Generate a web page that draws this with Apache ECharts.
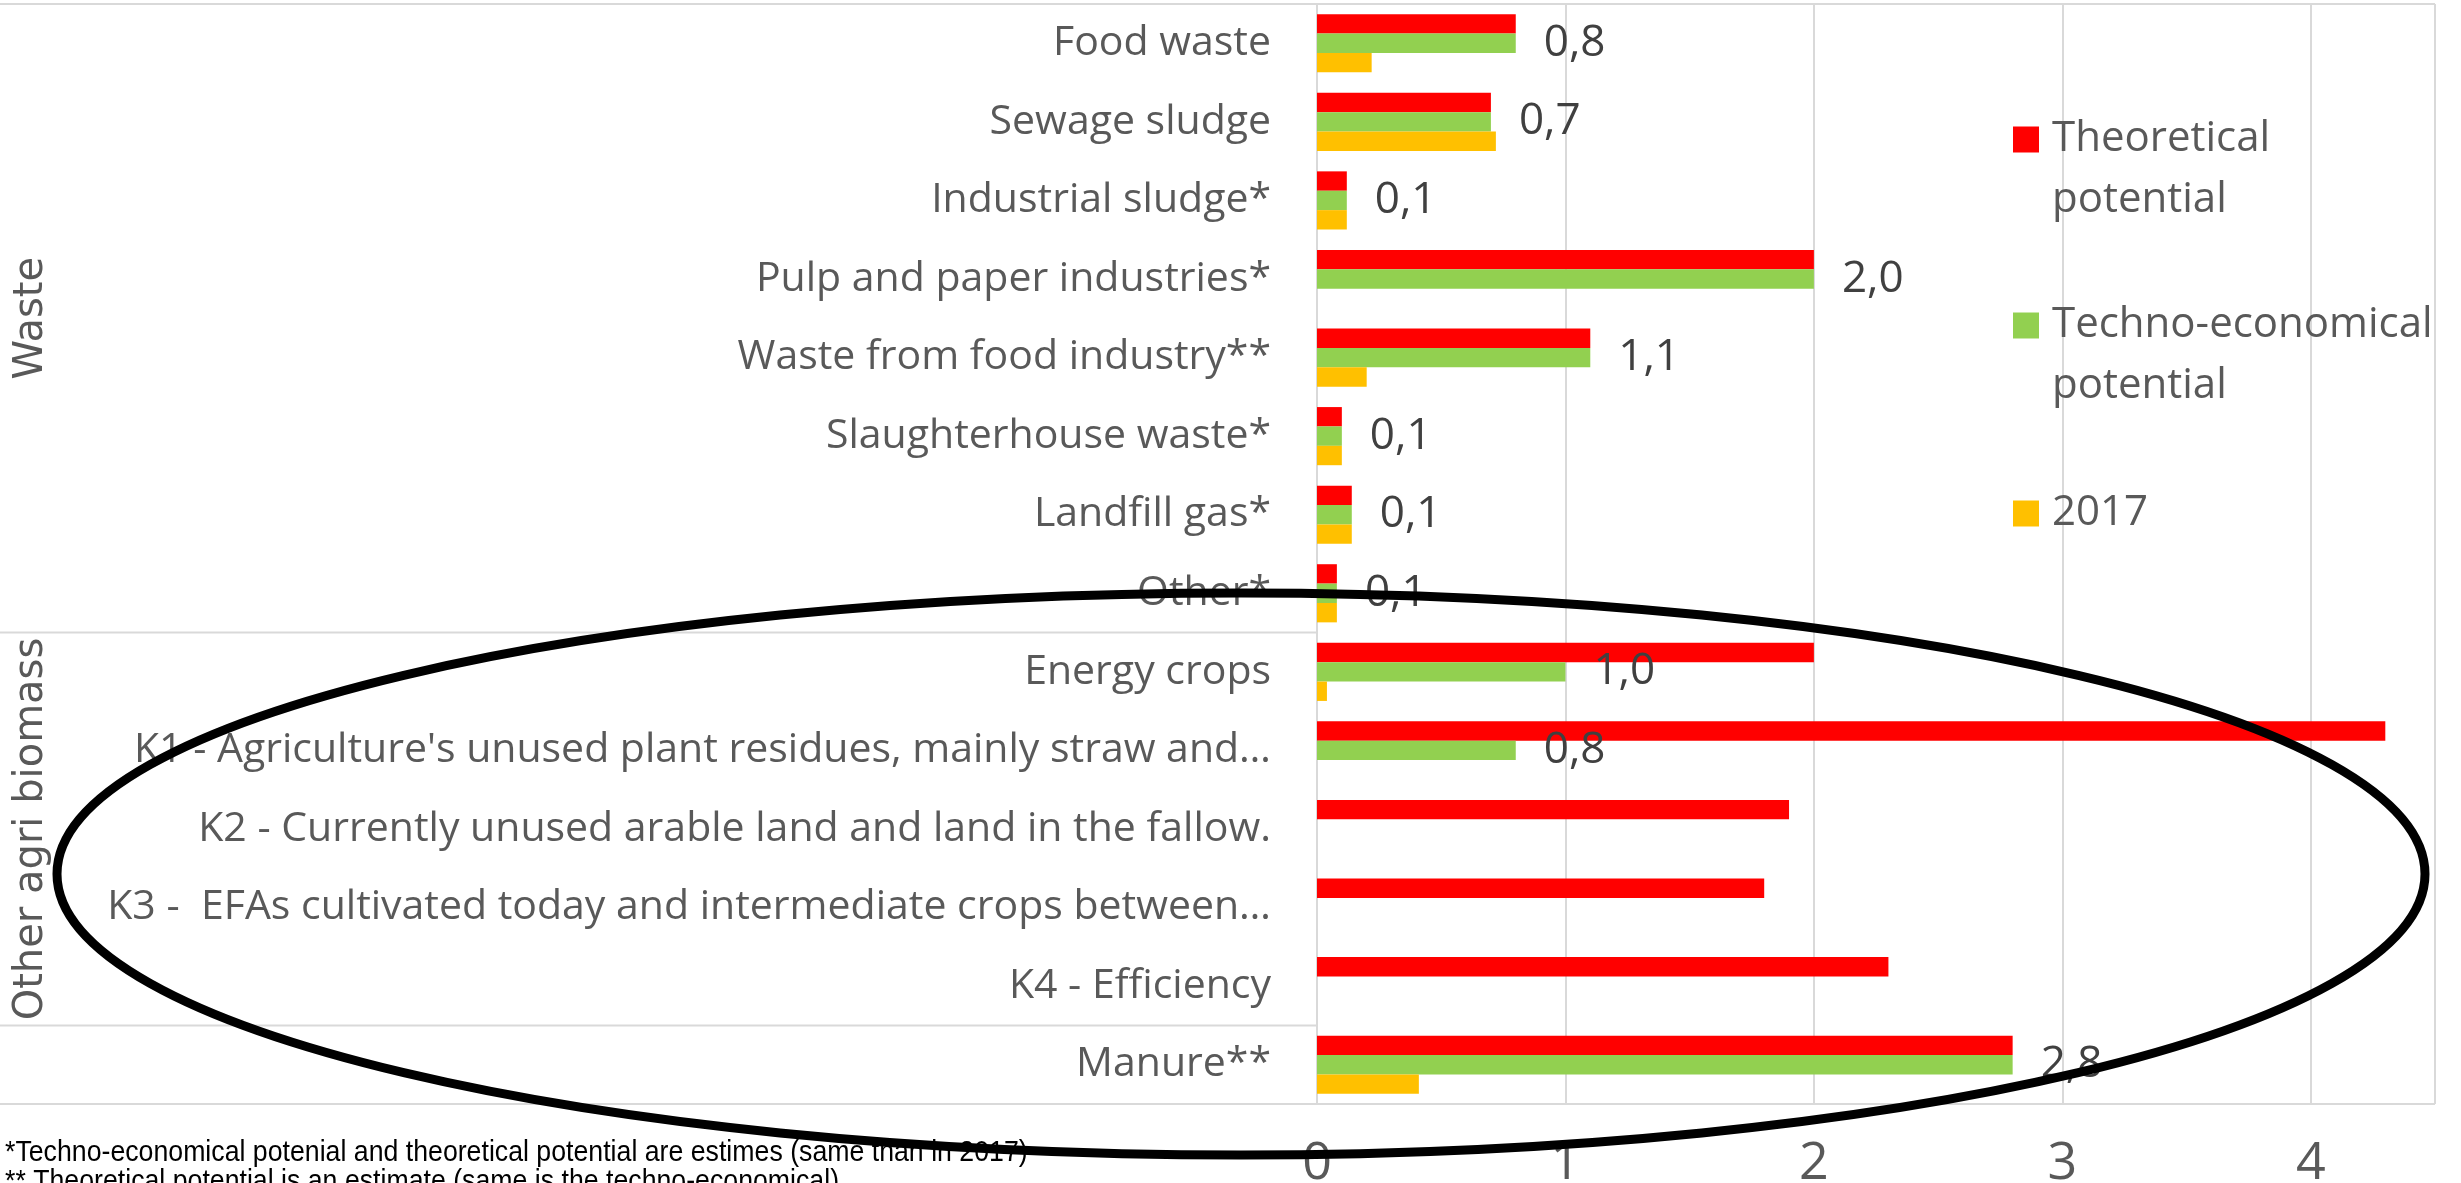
<!DOCTYPE html>
<html>
<head>
<meta charset="utf-8">
<script src="https://cdn.jsdelivr.net/npm/echarts@6/dist/echarts.min.js"></script>
<style>
  html, body { margin: 0; padding: 0; background: #fff; }
  #chart { width: 2461px; height: 1183px; }
</style>
</head>
<body>
<div id="chart"></div>
<script>
  // categories, top to bottom
  const categories = [
    'Food waste',
    'Sewage sludge',
    'Industrial sludge*',
    'Pulp and paper industries*',
    'Waste from food industry**',
    'Slaughterhouse waste*',
    'Landfill gas*',
    'Other*',
    'Energy crops',
    "K1 - Agriculture's unused plant residues, mainly straw and\u2026",
    'K2 - Currently unused arable land and land in the fallow.',
    'K3 -  EFAs cultivated today and intermediate crops between\u2026',
    'K4 - Efficiency',
    'Manure**'
  ]
  const theoretical = [0.8, 0.7, 0.12, 2.0, 1.1, 0.1, 0.14, 0.08, 2.0, 4.3, 1.9, 1.8, 2.3, 2.8]
  const technoEconomical = [0.8, 0.7, 0.12, 2.0, 1.1, 0.1, 0.14, 0.08, 1.0, 0.8, null, null, null, 2.8]
  const year2017 = [0.22, 0.72, 0.12, null, 0.2, 0.1, 0.14, 0.08, 0.04, null, null, null, null, 0.41]
  const xTicks = [0, 1, 2, 3, 4]

  // outer level of the category axis
  const groupNames = ['Waste', 'Other agri biomass']
  const groupStart = [0, 8]
  const groupEnd = [7, 12]

  const legendNames = ['Theoretical potential', 'Techno-economical potential', '2017']
  const legendText = ['Theoretical\npotential', 'Techno-economical\npotential', '2017']

  const footnotes = [
    '*Techno-economical potenial and theoretical potential are estimes (same than in 2017)',
    '** Theoretical potential is an estimate (same is the techno-economical)'
  ]

  const gray = '#595959'
  const lineGray = '#d9d9d9'
  const font = '"Open Sans", sans-serif'

  const chart = echarts.init(document.getElementById('chart'), null, {renderer: 'canvas'})

  function legendAt(i, top) {
    // an empty first line keeps the marker level with the first real line
    const twoLines = legendText[i].indexOf('\n') >= 0
    return {
      left: 2013,
      top: top,
      orient: 'vertical',
      padding: 0,
      itemWidth: 26,
      itemHeight: 26,
      icon: 'rect',
      selectedMode: false,
      data: [legendNames[i]],
      formatter: () => twoLines ? '\n' + legendText[i] : legendText[i],
      textStyle: {
        fontFamily: font,
        fontSize: 42,
        lineHeight: 61,
        color: gray,
        padding: [0, 0, 0, 8]
      }
    }
  }

  chart.setOption({
    animation: false,
    grid: {
      left: 1317,
      right: 26,
      top: 4,
      bottom: 79,
      outerBoundsMode: 'none',
      containLabel: false,
      show: false
    },
    legend: [legendAt(0, 48), legendAt(1, 234), legendAt(2, 483)],
    xAxis: {
      type: 'value',
      min: xTicks[0],
      max: 4.5,
      interval: 1,
      axisLine: {show: false},
      axisTick: {show: false},
      axisLabel: {
        showMaxLabel: false,
        margin: 34,
        fontFamily: font,
        fontSize: 52,
        color: gray,
        formatter: v => xTicks.indexOf(v) >= 0 ? String(v) : ''
      },
      splitLine: {lineStyle: {color: lineGray, width: 2}}
    },
    yAxis: {
      type: 'category',
      inverse: true,
      data: categories,
      axisTick: {show: false},
      axisLine: {lineStyle: {color: lineGray, width: 2}},
      axisLabel: {
        margin: 46,
        fontFamily: font,
        fontSize: 41,
        color: gray
      }
    },
    series: [
      {
        name: legendNames[0],
        type: 'bar',
        data: theoretical,
        barGap: '0%',
        barCategoryGap: '26%',
        itemStyle: {color: '#ff0000'}
      },
      {
        name: legendNames[1],
        type: 'bar',
        data: technoEconomical,
        barGap: '0%',
        barCategoryGap: '26%',
        itemStyle: {color: '#92d050'},
        label: {
          show: true,
          position: 'right',
          distance: 28,
          fontFamily: font,
          fontSize: 44,
          color: '#404040',
          formatter: p => p.value == null ? '' : p.value.toFixed(1).replace('.', ',')
        }
      },
      {
        name: legendNames[2],
        type: 'bar',
        data: year2017,
        barGap: '0%',
        barCategoryGap: '26%',
        itemStyle: {color: '#ffc000'}
      }
    ]
  })

  // group labels, separator lines, footnotes and the hand drawn ellipse
  const band = chart.convertToPixel({yAxisIndex: 0}, categories[1]) - chart.convertToPixel({yAxisIndex: 0}, categories[0])
  const rowTop = i => chart.convertToPixel({yAxisIndex: 0}, categories[i]) - band / 2
  const rowBottom = i => chart.convertToPixel({yAxisIndex: 0}, categories[i]) + band / 2
  const x0 = chart.convertToPixel({xAxisIndex: 0}, 0)
  const xMax = chart.convertToPixel({xAxisIndex: 0}, 4.5)

  const graphic = []
  const hLine = (y, x2) => ({
    type: 'line',
    shape: {x1: 0, y1: y, x2: x2, y2: y},
    style: {stroke: lineGray, lineWidth: 2}
  })
  graphic.push(hLine(rowTop(0), xMax))
  graphic.push(hLine(rowBottom(categories.length - 1), xMax))
  graphic.push({
    type: 'line',
    shape: {x1: xMax, y1: rowTop(0), x2: xMax, y2: rowBottom(categories.length - 1)},
    style: {stroke: lineGray, lineWidth: 2}
  })
  groupNames.forEach((name, i) => {
    graphic.push(hLine(rowBottom(groupEnd[i]), x0))
    graphic.push({
      type: 'text',
      x: 32,
      y: (rowTop(groupStart[i]) + rowBottom(groupEnd[i])) / 2,
      rotation: Math.PI / 2,
      style: {
        text: name,
        fontFamily: 'DejaVu Sans',
        fontSize: 40,
        fill: gray,
        align: 'center',
        verticalAlign: 'middle'
      }
    })
  })
  footnotes.forEach((t, i) => {
    graphic.push({
      type: 'text',
      x: 5,
      y: 1153 + i * 29,
      scaleX: 0.89,
      style: {
        text: t,
        fontFamily: '"Liberation Sans", Arial, sans-serif',
        fontSize: 30,
        fill: '#000',
        verticalAlign: 'middle'
      }
    })
  })
  graphic.push({
    type: 'ellipse',
    z: 100,
    shape: {cx: 1241, cy: 874, rx: 1184, ry: 281},
    style: {fill: 'none', stroke: '#000', lineWidth: 9}
  })

  chart.setOption({graphic: graphic})
</script>
</body>
</html>
